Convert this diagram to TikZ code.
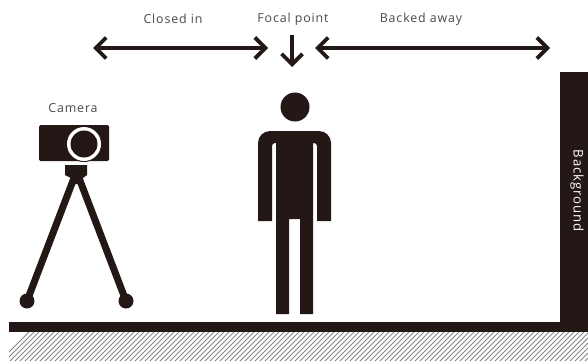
\documentclass[tikz,border=0pt]{standalone}
\usepackage{fontspec}
\setmainfont[LetterSpace=7]{Open Sans}
\usetikzlibrary{arrows.meta}
\definecolor{ink}{HTML}{231815}
\definecolor{label}{HTML}{4A4A4A}
\tikzset{
  solid ink/.style={fill=ink,draw=none},
  caption/.style={text=label,font=\fontsize{12.4}{14}\selectfont,inner sep=0pt},
  span/.style={draw=ink,line width=3.8pt,{Straight Barb[length=10.5pt,width=21pt,line width=3.8pt]}-{Straight Barb[length=10.5pt,width=21pt,line width=3.8pt]}},
  pointer/.style={draw=ink,line width=3.6pt,-{Straight Barb[length=10.5pt,width=21pt,line width=3.8pt]}},
  leg/.style={draw=ink,line width=7pt},
  hatchline/.style={draw=black!48,line width=1pt}
}
\begin{document}
\begin{tikzpicture}[x=1pt,y=-1pt]
\useasboundingbox (0,0) rectangle (588,361);
\fill[white] (0,0) rectangle (588,361);
% labels
\node[caption] (closed) at (173,19) {Closed in};
\node[caption] (focal) at (293,19) {Focal point};
\node[caption] (backed) at (421,19) {Backed away};
\node[caption] (cam) at (73,108) {Camera};
% arrows
\coordinate (a1) at (93,48); \coordinate (a2) at (268,48);
\coordinate (b1) at (315,48); \coordinate (b2) at (550,48);
\coordinate (c1) at (292,35); \coordinate (c2) at (292,67);
\draw[span] (a1) -- (a2);
\draw[span] (b1) -- (b2);
\draw[pointer] (c1) -- (c2);
% camera
\fill[solid ink,rounded corners=1.5pt] (39,125) rectangle (109,161);
\fill[solid ink] (84,144) circle (18);
\fill[white] (84,144) circle (17);
\fill[solid ink] (84,144) circle (13.5);
\fill[solid ink] (65,165) -- (87,165) -- (87,175) -- (83,178) -- (82,184) -- (72,184) -- (71,178) -- (65,175) -- cycle;
\coordinate (l0) at (74,178); \coordinate (r0) at (79,178);
\coordinate (lf) at (27,301); \coordinate (rf) at (126,301);
\draw[leg] (l0) -- (lf);
\draw[leg] (r0) -- (rf);
\fill[solid ink] (lf) circle (7.5);
\fill[solid ink] (rf) circle (7.5);
% person
\fill[solid ink] (295,107) circle (14.5);
\fill[solid ink] (258,221) -- (258,143) arc[start angle=180,end angle=270,radius=12] -- (319,131) arc[start angle=270,end angle=360,radius=12]
  -- (331,221) -- (317,221) -- (317,146) arc[start angle=0,end angle=-90,radius=3] -- (313,143) -- (313,314) -- (300,314) -- (300,219) -- (289,219) -- (289,314) -- (276,314)
  -- (276,146) -- (276,143) -- (275,143) arc[start angle=270,end angle=180,radius=3] -- (272,221) -- cycle;
% wall and floor
\fill[solid ink] (560,72) rectangle (588,332);
\fill[solid ink] (9,322) rectangle (588,332);
\node[caption,text=white,rotate=-90,font=\fontsize{13.2}{15}\selectfont] (bg) at (577,191) {Background};
% hatch
\begin{scope}
\clip (9,332) rectangle (588,361);
\foreach \i in {0,5,...,640}{
  \draw[hatchline] (\i,361) -- ++(32,-32);
}
\end{scope}
\end{tikzpicture}
\end{document}
